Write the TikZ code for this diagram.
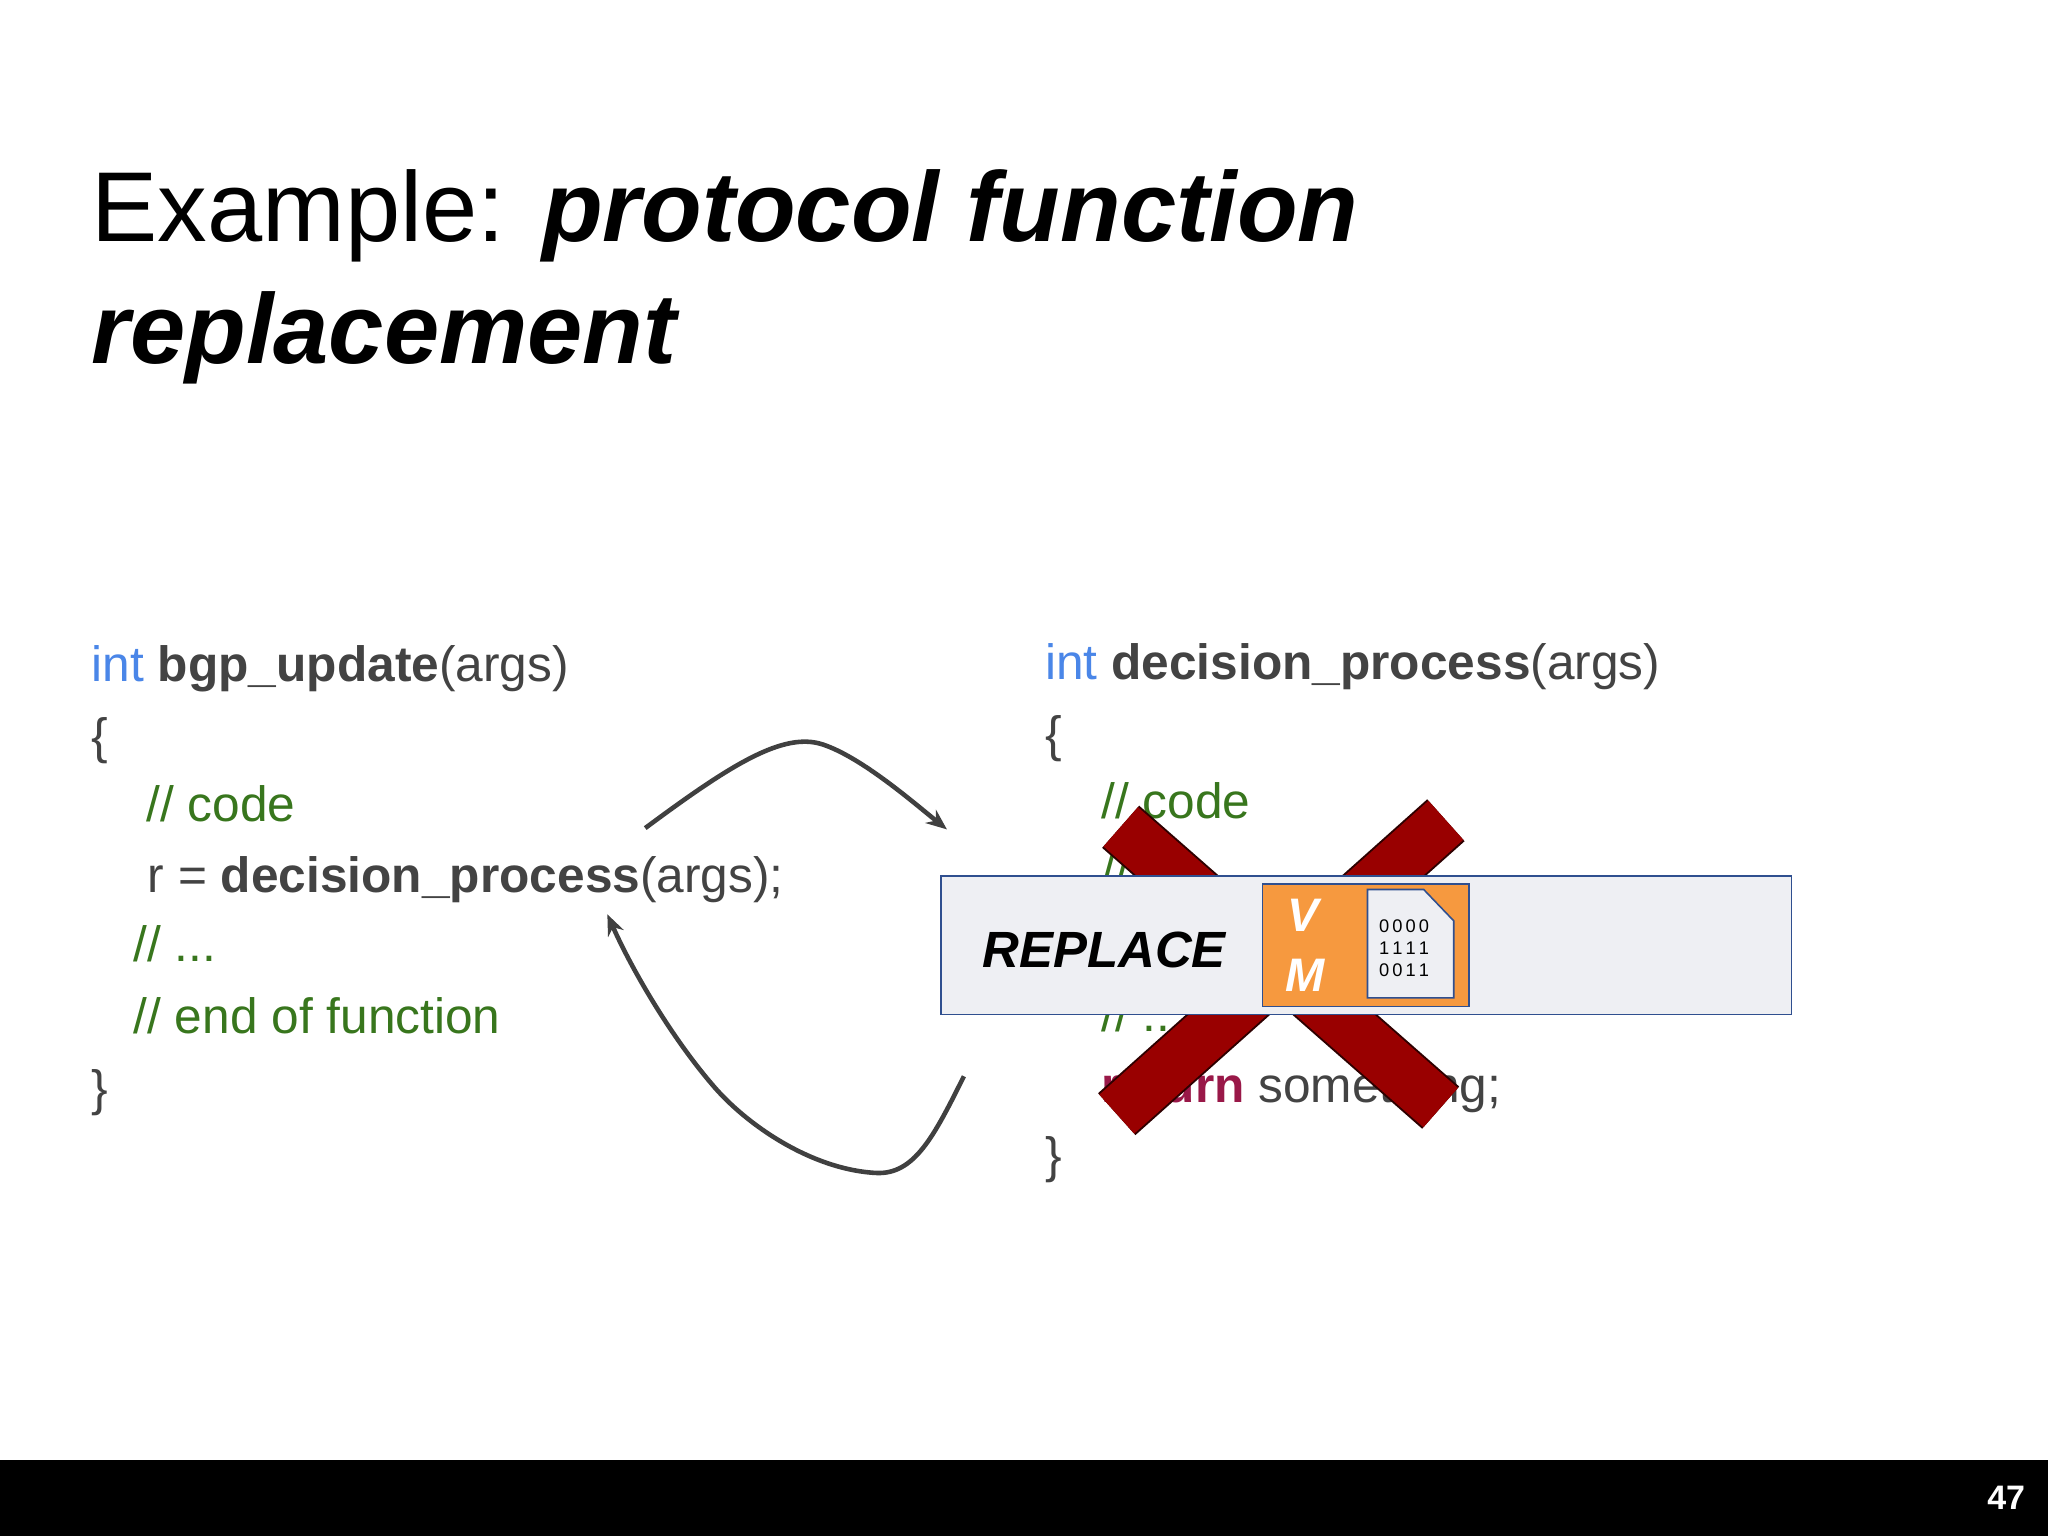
\documentclass[tikz,border=0pt]{standalone}
\usepackage{fontspec}
\setmainfont{Liberation Sans}
\definecolor{kw}{HTML}{4A86E8}
\definecolor{cm}{HTML}{38761D}
\definecolor{tx}{HTML}{434343}
\definecolor{rt}{HTML}{991848}
\definecolor{xr}{HTML}{990000}
\definecolor{bx}{HTML}{EEEFF3}
\definecolor{bb}{HTML}{2F4F8F}
\definecolor{og}{HTML}{F6993F}
\definecolor{ar}{HTML}{404040}
\tikzset{
 code/.style={anchor=base west,inner sep=0pt,font=\fontsize{38}{40}\selectfont,text=tx},
 arr/.style={draw=ar,line width=3.5pt,-{Stealth[length=16pt,width=13pt]}},
 xbar/.style={line width=40pt,draw=xr},
 xedge/.style={line width=43pt,draw=black!70!xr},
}
\usetikzlibrary{arrows.meta}
\begin{document}
\begin{tikzpicture}[x=1pt,y=-1pt]
\useasboundingbox (0,0) rectangle (1568,1176);
\fill[white] (0,0) rectangle (1568,1176);
% title
\node[anchor=base west,inner sep=0pt,font=\fontsize{76}{80}\selectfont] (t1) at (70,185) {Example: \textbf{\textit{protocol function}}};
\node[anchor=base west,inner sep=0pt,font=\fontsize{76}{80}\selectfont] (t2) at (70,278) {\textbf{\textit{replacement}}};
% left code
\node[code] (l1) at (70,522) {\textcolor{kw}{int} \textbf{bgp\_update}(args)};
\node[code] (l2) at (70,577) {\{};
\node[code,text=cm] (l3) at (112,629) {// code};
\node[code] (l4) at (113,683) {r = \textbf{decision\_process}(args);};
\node[code,text=cm] (l5) at (102,736) {// ...};
\node[code,text=cm] (l6) at (102,791) {// end of function};
\node[code] (l7) at (70,846) {\}};
% right code
\node[code] (r1) at (800,520) {\textcolor{kw}{int} \textbf{decision\_process}(args)};
\node[code] (r2) at (800,575) {\{};
\node[code,text=cm] (r3) at (843,627) {// code};
\node[code,text=cm] (r4) at (843,681) {// ...};
\node[code,text=cm] (r5) at (843,790) {// ...};
\node[code] (r6) at (843,844) {\textcolor{rt}{\textbf{return}} something;};
\node[code] (r7) at (800,898) {\}};
% red cross
\coordinate (xa) at (858,633); \coordinate (xb) at (1103,848);
\coordinate (xc) at (1107,628); \coordinate (xd) at (855,853);
\draw[xedge] (xa) -- (xb); \draw[xedge] (xc) -- (xd);
\draw[xbar] (xa) -- (xb); \draw[xbar] (xc) -- (xd);
% replace box
\node[draw=bb,fill=bx,line width=1.2pt,minimum width=651pt,minimum height=106pt,anchor=north west,inner sep=0pt] (box) at (720,670) {};
\node[anchor=west,inner sep=0pt,font=\fontsize{39}{40}\selectfont\bfseries\itshape] (rep) at (752,727) {REPLACE};
\node[draw=bb,fill=og,line width=1.2pt,minimum width=158pt,minimum height=94pt,anchor=north west,inner sep=0pt] (vm) at (966,676) {};
\node[text=white,font=\fontsize{36}{38}\selectfont\bfseries\itshape,inner sep=0pt] (v) at (998,701) {V};
\node[text=white,font=\fontsize{36}{38}\selectfont\bfseries\itshape,inner sep=0pt] (m) at (999,747) {M};
\draw[draw=bb,fill=bx,line width=1.2pt] (1047,681) -- (1090,681) -- (1113,705) -- (1113,764) -- (1047,764) -- cycle;
\node[font=\fontsize{14}{15}\selectfont,inner sep=0pt,align=left] (bits) at (1075,726) {0\,0\,0\,0\\[2pt]1\,1\,1\,1\\[2pt]0\,0\,1\,1};
% arrows
\coordinate (a1s) at (494,634); \coordinate (a1e) at (725,635);
\draw[arr] (a1s) .. controls (560,585) and (600,560) .. (630,570) .. controls (660,580) and (700,615) .. (a1e);
\coordinate (a2s) at (738,824); \coordinate (a2e) at (465,700);
\draw[arr] (a2s) .. controls (715,870) and (700,900) .. (670,898) .. controls (620,895) and (570,860) .. (545,830) .. controls (515,795) and (485,745) .. (a2e);
% footer
\fill[black] (0,1118) rectangle (1568,1176);
\node[text=white,font=\fontsize{26}{28}\selectfont\bfseries,inner sep=0pt] (pg) at (1536,1147) {47};
\end{tikzpicture}
\end{document}
